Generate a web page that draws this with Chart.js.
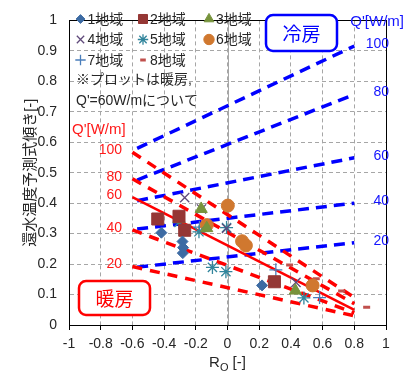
<!DOCTYPE html>
<html>
<head>
<meta charset="utf-8">
<script src="https://cdn.jsdelivr.net/npm/chart.js@4/dist/chart.umd.min.js"></script>
<style>
  html, body { margin: 0; padding: 0; background: #fff; }
  #wrap { width: 413px; height: 373px; }
</style>
</head>
<body>
<div id="wrap"><canvas id="grafico" width="413" height="373"></canvas></div>
<script>
// Rangos de los ejes
const xTicks = [-1, -0.8, -0.6, -0.4, -0.2, 0, 0.2, 0.4, 0.6, 0.8, 1];
const yTicks = [0, 0.1, 0.2, 0.3, 0.4, 0.5, 0.6, 0.7, 0.8, 0.9, 1];

// Líneas de cálculo: Q' [W/m]
const qLabels = [100, 80, 60, 40, 20];
const coolX = [-0.57, 0.8];
const coolY = [[0.58, 0.916], [0.476, 0.757], [0.408, 0.549], [0.315, 0.40], [0.19, 0.27]];
const heatX = [-0.6, 0.8];
const heatY = [[0.567, 0.09], [0.48, 0.07], [0.42, 0.05], [0.312, 0.04], [0.192, 0.03]];

// Datos medidos (calefacción, Q'=60W/m) por región
const region1 = [[-0.417, 0.303], [-0.284, 0.274], [-0.28, 0.254], [-0.282, 0.236], [0.218, 0.13]];
const region2 = [[-0.44, 0.348], [-0.306, 0.357], [-0.27, 0.311], [0.296, 0.142]];
const region3 = [[-0.166, 0.381], [-0.306, 0.347], [-0.131, 0.318], [0.428, 0.113]];
const region4 = [[-0.27, 0.418], [-0.164, 0.381], [-0.006, 0.317], [0.432, 0.14]];
const region5 = [[-0.306, 0.337], [-0.18, 0.306], [-0.006, 0.32], [-0.095, 0.189], [-0.01, 0.175], [0.482, 0.089]];
const region6 = [[0.002, 0.392], [-0.131, 0.328], [0.092, 0.275], [0.116, 0.261], [0.537, 0.13]];
const region7 = [[-0.177, 0.321], [0.305, 0.181], [0.581, 0.09]];
const region8 = [[0.392, 0.197], [0.56, 0.152], [0.72, 0.112], [0.878, 0.058]];

const regionNames = ['1地域', '2地域', '3地域', '4地域', '5地域', '6地域', '7地域', '8地域'];

const toPts = arr => arr.map(p => ({ x: p[0], y: p[1] }));

// Estilos de marcadores por región
const markers = [
    { data: region1, pointStyle: 'rectRot', radius: 5.5, color: '#3d6ba3', fill: true, bw: 1 },
    { data: region2, pointStyle: 'rect', radius: 8.5, color: '#953735', fill: true, bw: 1 },
    { data: region3, pointStyle: 'triangle', radius: 7, color: '#77933c', fill: true, bw: 1 },
    { data: region4, pointStyle: 'crossRot', radius: 6.5, color: '#604a7b', fill: false, bw: 1.3 },
    { data: region5, pointStyle: 'star', radius: 6.5, color: '#31859c', fill: false, bw: 1.3 },
    { data: region6, pointStyle: 'circle', radius: 6.5, color: '#d0782f', fill: true, bw: 1 },
    { data: region7, pointStyle: 'cross', radius: 6.5, color: '#4a7ebb', fill: false, bw: 1.3 },
    { data: region8, pointStyle: 'line', radius: 3.5, color: '#c0504d', fill: false, bw: 3 }
];

const datasets = [];

// Líneas de refrigeración (azul) y calefacción (rojo)
coolY.forEach((ys, i) => {
    datasets.push({
        type: 'line', label: 'cool' + qLabels[i],
        data: [{ x: coolX[0], y: ys[0] }, { x: coolX[1], y: ys[1] }],
        borderColor: '#0000ff', borderWidth: 3.5, borderDash: [11, 7],
        pointRadius: 0, fill: false, order: 5
    });
});
heatY.forEach((ys, i) => {
    const solido = qLabels[i] === 60;
    datasets.push({
        type: 'line', label: 'heat' + qLabels[i],
        data: [{ x: heatX[0], y: ys[0] }, { x: heatX[1], y: ys[1] }],
        borderColor: '#ff0000', borderWidth: solido ? 2.5 : 3.5, borderDash: solido ? [] : [10, 8],
        pointRadius: 0, fill: false, order: 4
    });
});
markers.forEach((m, i) => {
    datasets.push({
        type: 'scatter', label: regionNames[i],
        data: toPts(m.data),
        pointStyle: m.pointStyle, pointRadius: m.radius,
        pointBackgroundColor: m.fill ? m.color : 'rgba(0,0,0,0)',
        pointBorderColor: m.color, pointBorderWidth: m.bw,
        order: 1
    });
});

const fontLat = 'Arial, "Liberation Sans", "Noto Sans CJK JP", sans-serif';

// Plugin: bordes, textos y leyenda
const decoracion = {
    id: 'decoracion',
    beforeDatasetsDraw(chart) {
        const { ctx, chartArea: a, scales: { x, y } } = chart;
        ctx.save();
        // línea de cero en x
        ctx.strokeStyle = '#a6a6a6';
        ctx.lineWidth = 1;
        ctx.beginPath();
        ctx.moveTo(Math.round(x.getPixelForValue(0)) + 0.5, a.top);
        ctx.lineTo(Math.round(x.getPixelForValue(0)) + 0.5, a.bottom);
        ctx.stroke();
        ctx.restore();
    },
    afterDraw(chart) {
        const { ctx, chartArea: a, scales: { x, y } } = chart;
        ctx.save();
        ctx.strokeStyle = '#000';
        ctx.lineWidth = 1;
        ctx.strokeRect(Math.round(a.left) + 0.5, Math.round(a.top) + 0.5, Math.round(a.right - a.left), Math.round(a.bottom - a.top));

        // etiquetas Q' azules
        ctx.fillStyle = '#1414ff';
        ctx.font = '15px ' + fontLat;
        ctx.textAlign = 'right';
        ctx.textBaseline = 'middle';
        ctx.fillText("Q'[W/m]", 404, 22);
        ctx.font = '14px ' + fontLat;
        coolY.forEach((ys, i) => {
            ctx.fillText(String(qLabels[i]), 389, y.getPixelForValue(ys[1]) - 2);
        });

        // etiquetas Q' rojas
        ctx.fillStyle = '#ff1a1a';
        ctx.font = '15px ' + fontLat;
        ctx.textAlign = 'left';
        ctx.fillText("Q'[W/m]", 72, 130);
        ctx.font = '14px ' + fontLat;
        ctx.textAlign = 'right';
        heatY.forEach((ys, i) => {
            ctx.fillText(String(qLabels[i]), 122, y.getPixelForValue(ys[0]) - 2);
        });

        // cajas 冷房 / 暖房
        const caja = (x0, y0, w, h, color, texto) => {
            ctx.beginPath();
            ctx.roundRect(x0, y0, w, h, 7);
            ctx.fillStyle = '#fff';
            ctx.fill();
            ctx.lineWidth = 2.5;
            ctx.strokeStyle = color;
            ctx.stroke();
            ctx.fillStyle = color;
            ctx.font = '19px "Noto Sans CJK JP"';
            ctx.textAlign = 'center';
            ctx.textBaseline = 'middle';
            ctx.fillText(texto, x0 + w / 2, y0 + h / 2 + 1);
        };
        caja(266, 15, 71, 36, '#0000ff', '冷房');
        caja(79, 281, 71, 34, '#ff0000', '暖房');

        // leyenda
        const colX = [80.5, 143, 209];
        const rowY = [19, 39.5, 60];
        ctx.font = '14px ' + fontLat;
        ctx.textAlign = 'left';
        ctx.textBaseline = 'middle';
        markers.forEach((m, i) => {
            const cx = colX[i % 3], cy = rowY[Math.floor(i / 3)];
            ctx.save();
            ctx.fillStyle = m.fill ? m.color : 'rgba(0,0,0,0)';
            ctx.strokeStyle = m.color;
            ctx.lineWidth = m.bw;
            const r = m.pointStyle === 'rect' ? m.radius * 0.75 : m.radius * 0.8;
            Chart.helpers.drawPoint(ctx, { pointStyle: m.pointStyle, radius: r, rotation: 0, borderWidth: m.bw }, cx, cy);
            ctx.restore();
            ctx.fillStyle = '#262626';
            ctx.fillText(regionNames[i], cx + 7, cy + 1);
        });
        ctx.fillStyle = '#262626';
        ctx.fillText('※プロットは暖房,', 76, 80);
        ctx.fillText("Q'=60W/mについて", 76, 101);

        // título eje y
        ctx.save();
        ctx.translate(31, (a.top + a.bottom) / 2);
        ctx.rotate(-Math.PI / 2);
        ctx.textAlign = 'center';
        ctx.font = '15px ' + fontLat;
        ctx.fillText('還水温度予測式傾き[-]', 0, 0);
        ctx.restore();

        // título eje x con subíndice
        ctx.font = '15px ' + fontLat;
        ctx.textAlign = 'left';
        const cxT = (a.left + a.right) / 2;
        const w1 = ctx.measureText('R').width;
        ctx.font = '11px ' + fontLat;
        const w2 = ctx.measureText('O').width;
        ctx.font = '15px ' + fontLat;
        const w3 = ctx.measureText(' [-]').width;
        let sx = cxT - (w1 + w2 + w3) / 2;
        ctx.fillText('R', sx, 363);
        ctx.font = '11px ' + fontLat;
        ctx.fillText('O', sx + w1, 368);
        ctx.font = '15px ' + fontLat;
        ctx.fillText(' [-]', sx + w1 + w2, 363);
        ctx.restore();
    }
};

const ctx = document.getElementById('grafico').getContext('2d');
const grafico = new Chart(ctx, {
    data: { datasets: datasets },
    options: {
        responsive: false,
        animation: false,
        events: [],
        layout: { padding: { top: 19, right: 27, left: 0, bottom: 0 } },
        plugins: { legend: { display: false }, tooltip: { enabled: false } },
        scales: {
            x: {
                type: 'linear', min: -1, max: 1,
                afterBuildTicks: s => { s.ticks = xTicks.map(v => ({ value: v })); },
                afterFit: s => { s.height = 48; },
                ticks: { color: '#262626', font: { size: 14, family: fontLat }, padding: 6,
                    callback: v => String(v) },
                grid: { color: '#a6a6a6', tickLength: 5, tickColor: '#000' },
                border: { color: '#000', dash: [4, 3] }
            },
            y: {
                type: 'linear', min: 0, max: 1,
                afterBuildTicks: s => { s.ticks = yTicks.map(v => ({ value: v })); },
                afterFit: s => { s.width = 69; },
                ticks: { color: '#262626', font: { size: 14, family: fontLat }, padding: 12,
                    callback: v => String(v) },
                grid: { color: '#a6a6a6', tickLength: 0 },
                border: { color: '#000', dash: [4, 3] }
            }
        }
    },
    plugins: [decoracion]
});
</script>
</body>
</html>
